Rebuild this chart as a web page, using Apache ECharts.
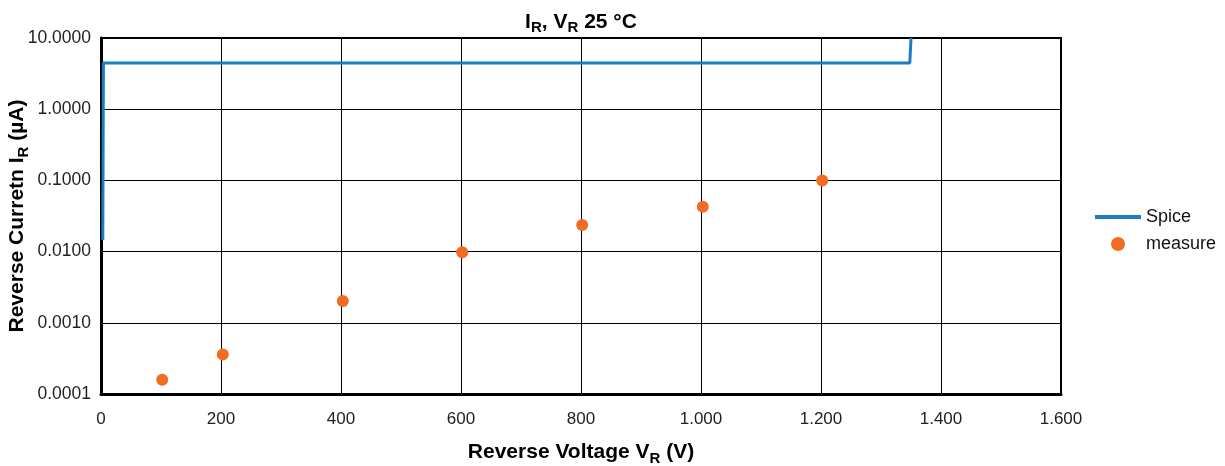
<!DOCTYPE html>
<html><head><meta charset="utf-8">
<script src="https://cdn.jsdelivr.net/npm/echarts@6/dist/echarts.min.js"></script>
<style>html,body{margin:0;padding:0;background:#fff}#c{width:1225px;height:466px}</style>
</head><body><div id="c"></div>
<script>
const spiceV = [3, 4, 1348, 1350];
const spiceI = [0.0145, 4.47, 4.47, 10];
const measureV = [102, 203, 403, 602, 802, 1003, 1202];
const measureI = [0.000158, 0.00036, 0.00203, 0.0098, 0.0236, 0.0425, 0.1];
const xTicks = [0, 200, 400, 600, 800, 1000, 1200, 1400, 1600];
const yTicks = [0.0001, 0.001, 0.01, 0.1, 1, 10];
const seriesNames = ['Spice', 'measure'];

const F = 'Liberation Sans, Arial, sans-serif';
const chart = echarts.init(document.getElementById('c'));
chart.setOption({
  animation: false,
  textStyle: {fontFamily: F},
  title: {
    text: '{m|I}{s|R}{m|, V}{s|R}{m| 25 °C}',
    left: 576, textAlign: 'center', top: 5,
    textStyle: {rich: {
      m: {fontFamily: F, fontSize: 21, fontWeight: 'bold', color: '#000'},
      s: {fontFamily: F, fontSize: 15, fontWeight: 'bold', color: '#000', padding: [10, 0, 0, 0]}
    }}
  },
  legend: {
    orient: 'vertical', left: 1090, top: 203, itemWidth: 46, itemHeight: 14, itemGap: 9,
    textStyle: {fontFamily: F, fontSize: 18, color: '#111'},
    data: [{name: seriesNames[0], icon: 'path://M0,0 L46,0 L46,4 L0,4 Z'}, {name: seriesNames[1], icon: 'circle'}]
  },
  grid: {left: 101, right: 164, top: 38, bottom: 72, show: true, borderColor: '#000', borderWidth: 2,
         containLabel: false, outerBoundsMode: 'none'},
  xAxis: {
    type: 'value', min: 0, max: 1600, interval: 200,
    name: '{m|Reverse Voltage V}{s|R}{m| (V)}', nameLocation: 'middle', nameGap: 45, nameMoveOverlap: false,
    nameTextStyle: {rich: {
      m: {fontFamily: F, fontSize: 21, fontWeight: 'bold', color: '#000'},
      s: {fontFamily: F, fontSize: 15, fontWeight: 'bold', color: '#000', padding: [12, 0, 0, 0]}
    }},
    axisLine: {lineStyle: {color: '#000', width: 3}},
    axisTick: {show: false},
    axisLabel: {fontFamily: F, fontSize: 17, color: '#222', margin: 17,
      formatter: v => xTicks.includes(v) ? (v >= 1000 ? Math.floor(v/1000) + '.' + String(v%1000).padStart(3,'0') : String(v)) : ''},
    splitLine: {show: true, lineStyle: {color: '#000', width: 1}}
  },
  yAxis: {
    type: 'log', logBase: 10, min: 0.0001, max: 10,
    name: '{m|Reverse Curretn I}{s|R}{m| (µA)}', nameLocation: 'middle', nameGap: 70, nameRotate: 90,
    nameMoveOverlap: false,
    nameTextStyle: {rich: {
      m: {fontFamily: F, fontSize: 21, fontWeight: 'bold', color: '#000'},
      s: {fontFamily: F, fontSize: 15, fontWeight: 'bold', color: '#000', padding: [12, 0, 0, 0]}
    }},
    axisLine: {show: true, lineStyle: {color: '#000', width: 3}},
    axisTick: {show: false},
    axisLabel: {fontFamily: F, fontSize: 17.5, color: '#222', margin: 10,
      formatter: v => Number(v).toFixed(4)},
    splitLine: {show: true, lineStyle: {color: '#000', width: 1}}
  },
  series: [
    {name: seriesNames[0], type: 'line', showSymbol: false, symbol: 'none',
     data: spiceV.map((v, i) => [v, spiceI[i]]),
     lineStyle: {color: '#1b7dc6', width: 3}, itemStyle: {color: '#1b7dc6'}, z: 3},
    {name: seriesNames[1], type: 'scatter', symbol: 'circle', symbolSize: 12,
     data: measureV.map((v, i) => [v, measureI[i]]),
     itemStyle: {color: '#f26d21', opacity: 1}, z: 4}
  ]
});
</script></body></html>
